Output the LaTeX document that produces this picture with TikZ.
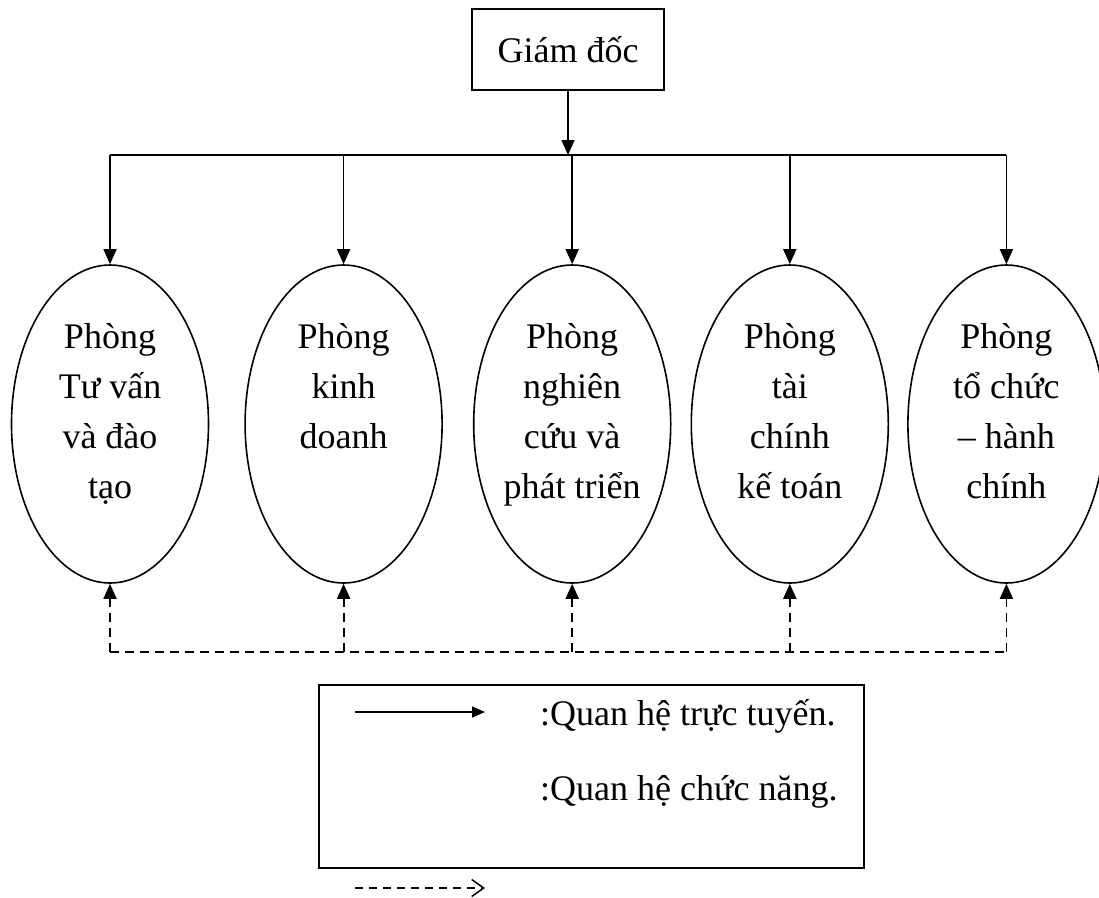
\documentclass[tikz,border=0pt]{standalone}
\usepackage{fontspec}
\setmainfont{Liberation Serif}
\usetikzlibrary{positioning,shapes.geometric,arrows.meta}

\begin{document}
\begin{tikzpicture}[
        x=1pt, y=-1pt,
        font=\fontsize{36}{50}\selectfont,
        boss/.style={rectangle, draw, line width=1.6pt, minimum width=192pt, minimum height=81pt},
        dept/.style={ellipse, draw, line width=1.6pt, align=center, inner sep=0pt, minimum width=197pt, minimum height=318pt,
            execute at begin node=\strut, execute at end node={\rule[-27pt]{0pt}{27pt}}},
        line/.style={draw, line width=1.6pt, -{Triangle[length=15pt,width=13pt]}},
        func/.style={draw, line width=1.8pt, dash pattern=on 9pt off 6pt}]
    \useasboundingbox (0,0) rectangle (1099,897);
    \node[boss] (gd) at (568,49.5) {Giám đốc};
    \node[dept] (e1) at (110,424) {Phòng\\Tư vấn\\và đào\\tạo};
    \node[dept] (e2) [right=35pt of e1] {Phòng\\kinh\\doanh\\~};
    \node[dept] (e3) [right=30pt of e2] {Phòng\\nghiên\\cứu và\\phát triển};
    \node[dept] (e4) [right=19pt of e3] {Phòng\\tài\\chính\\kế toán};
    \node[dept] (e5) [right=18pt of e4] {Phòng\\tổ chức\\– hành\\chính};
    % truc tuyen
    \coordinate (bus) at (0,155);
    \draw[line] (gd) -- (gd |- bus);
    \draw[line width=1.6pt] (e1.north |- bus) -- (e5.north |- bus);
    \foreach \i in {1,...,5}
        \draw[line] (e\i.north |- bus) -- (e\i.north);
    % chuc nang
    \coordinate (fb) at (0,652);
    \draw[func] (e1.south |- fb) -- (e5.south |- fb);
    \foreach \i in {1,...,5}
        \draw[func, -{Triangle[length=15pt,width=13pt]}] (e\i.south |- fb) -- (e\i.south);
    % chu thich
    \node[draw, line width=2pt, minimum width=545pt, minimum height=183pt, inner sep=0pt] (legend) at (591.5,776.5) {};
    \coordinate (ls1) at (355,712);
    \coordinate (le1) at (485,712);
    \draw[line width=1.6pt, -{Triangle[length=13pt,width=11pt]}] (ls1) -- (le1);
    \node[anchor=base west, inner sep=0pt] (t1) at (540,725) {:Quan hệ trực tuyến.};
    \node[anchor=base west, inner sep=0pt] (t2) at (540,800) {:Quan hệ chức năng.};
    \coordinate (ls2) at (355,888);
    \coordinate (le2) at (485,888);
    \draw[line width=1.5pt, dash pattern=on 8pt off 6pt, -{Straight Barb[length=12pt,width=17pt]}] (ls2) -- (le2);
\end{tikzpicture}
\end{document}
